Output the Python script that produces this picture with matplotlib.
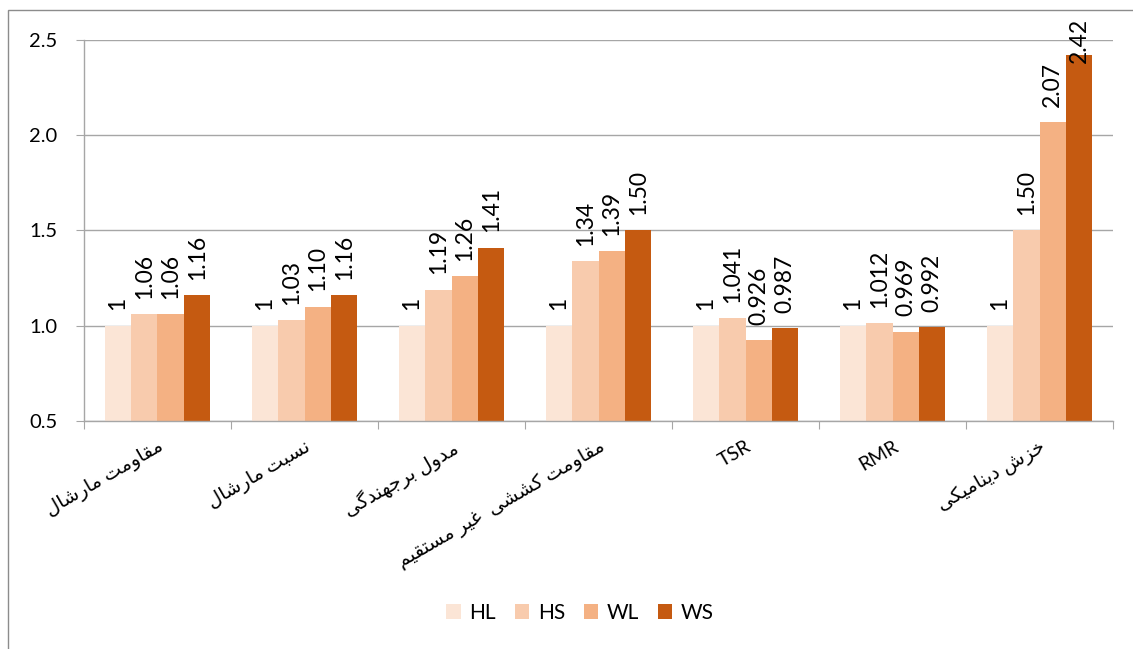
import matplotlib
matplotlib.use("Agg")
import matplotlib.pyplot as plt
from matplotlib.patches import Rectangle, Patch
from matplotlib.ticker import FormatStrFormatter, FixedLocator
import numpy as np

# ---------------------------------------------------------------- data
CATEGORIES = [
    "مقاومت مارشال",
    "نسبت مارشال",
    "مدول برجهندگی",
    "مقاومت کششی  غیر مستقیم",
    "TSR",
    "RMR",
    "خزش دینامیکی",
]
SERIES = ["HL", "HS", "WL", "WS"]
HL = [1, 1, 1, 1, 1, 1, 1]
HS = [1.06, 1.03, 1.19, 1.34, 1.041, 1.012, 1.50]
WL = [1.06, 1.10, 1.26, 1.39, 0.926, 0.969, 2.07]
WS = [1.16, 1.16, 1.41, 1.50, 0.987, 0.992, 2.42]
DECIMALS = [2, 2, 2, 2, 3, 3, 2]          # label precision per category
YTICKS = [0.5, 1.0, 1.5, 2.0, 2.5]

COLORS = ["#FBE5D6", "#F8CBAD", "#F4B183", "#C55A11"]
GRID = "#A6A6A6"

# ------------------------------------------------ Persian text shaping
# forms: (isolated, final, initial, medial); right-joining letters have 2
FORMS = {
    "ا": ("\uFE8D", "\uFE8E"),
    "ب": ("\uFE8F", "\uFE90", "\uFE91", "\uFE92"),
    "ت": ("\uFE95", "\uFE96", "\uFE97", "\uFE98"),
    "ج": ("\uFE9D", "\uFE9E", "\uFE9F", "\uFEA0"),
    "خ": ("\uFEA5", "\uFEA6", "\uFEA7", "\uFEA8"),
    "د": ("\uFEA9", "\uFEAA"),
    "ر": ("\uFEAD", "\uFEAE"),
    "ز": ("\uFEAF", "\uFEB0"),
    "س": ("\uFEB1", "\uFEB2", "\uFEB3", "\uFEB4"),
    "ش": ("\uFEB5", "\uFEB6", "\uFEB7", "\uFEB8"),
    "غ": ("\uFECD", "\uFECE", "\uFECF", "\uFED0"),
    "ق": ("\uFED5", "\uFED6", "\uFED7", "\uFED8"),
    "ل": ("\uFEDD", "\uFEDE", "\uFEDF", "\uFEE0"),
    "م": ("\uFEE1", "\uFEE2", "\uFEE3", "\uFEE4"),
    "ن": ("\uFEE5", "\uFEE6", "\uFEE7", "\uFEE8"),
    "ه": ("\uFEE9", "\uFEEA", "\uFEEB", "\uFEEC"),
    "و": ("\uFEED", "\uFEEE"),
    "ی": ("\uFBFC", "\uFBFD", "\uFBFE", "\uFBFF"),
    "ک": ("\uFB8E", "\uFB8F", "\uFB90", "\uFB91"),
    "گ": ("\uFB92", "\uFB93", "\uFB94", "\uFB95"),
}


def shape_rtl(text):
    if not any(ch in FORMS for ch in text):
        return text
    out = []
    n = len(text)
    for i, ch in enumerate(text):
        if ch not in FORMS:
            out.append(ch)
            continue
        forms = FORMS[ch]
        prev = text[i - 1] if i > 0 else None
        nxt = text[i + 1] if i < n - 1 else None
        joins_prev = prev in FORMS and len(FORMS[prev]) == 4
        joins_next = len(forms) == 4 and nxt in FORMS
        if joins_prev and joins_next:
            out.append(forms[3])
        elif joins_prev:
            out.append(forms[1])
        elif joins_next:
            out.append(forms[2])
        else:
            out.append(forms[0])
    return "".join(reversed(out))


# ---------------------------------------------------------------- plot
FONT = ["Lato", "DejaVu Sans"]
plt.rcParams["font.family"] = FONT

fig = plt.figure(figsize=(11.33, 6.49), dpi=100)
ax = fig.add_axes([84 / 1133, 1 - 421 / 649, (1113 - 84) / 1133, (421 - 40) / 649])

n_cat = len(CATEGORIES)
centers = np.arange(n_cat) + 0.5
bar_w = 0.18
series_vals = [HL, HS, WL, WS]
LABEL_CEIL = 2.30

for k, (name, vals, col) in enumerate(zip(SERIES, series_vals, COLORS)):
    xs = centers + (k - 1.5) * bar_w
    ax.bar(xs, vals, width=bar_w, color=col, edgecolor="none", label=name, zorder=2)
    for x, v, d in zip(xs, vals, DECIMALS):
        txt = f"{v:g}" if name == "HL" else f"{v:.{d}f}"
        ax.annotate(txt, (x, min(v, LABEL_CEIL)), xytext=(0, 11),
                    textcoords="offset points", rotation=90,
                    ha="center", va="bottom", fontsize=16.5,
                    annotation_clip=False, zorder=3)

ax.set_xlim(0, n_cat)
ax.set_ylim(0.5, 2.5)
ax.set_yticks(YTICKS)
ax.yaxis.set_major_formatter(FormatStrFormatter("%.1f"))
ax.grid(axis="y", color=GRID, linewidth=1, zorder=0)
ax.set_axisbelow(True)

for s in ("top", "right"):
    ax.spines[s].set_visible(False)
for s in ("left", "bottom"):
    ax.spines[s].set_color(GRID)
    ax.spines[s].set_linewidth(1)

ax.tick_params(axis="y", length=6, color=GRID, pad=13, labelsize=14.5)
ax.xaxis.set_major_locator(FixedLocator(np.arange(n_cat + 1)))
ax.xaxis.set_minor_locator(FixedLocator(centers))
ax.tick_params(axis="x", which="major", length=6, color=GRID, labelbottom=False)
ax.tick_params(axis="x", which="minor", length=0, pad=12)
ax.set_xticklabels([shape_rtl(c) for c in CATEGORIES], minor=True,
                   rotation=30, ha="right", va="top", rotation_mode="anchor",
                   fontsize=14)

handles = [Patch(facecolor=c, edgecolor="none") for c in COLORS]
fig.legend(handles, SERIES, loc="center", bbox_to_anchor=(580 / 1133, 1 - 613 / 649),
           ncol=4, frameon=False, fontsize=15, handlelength=0.7, handleheight=0.7,
           handletextpad=0.4, columnspacing=0.9)

fig.patches.append(Rectangle((8 / 1133, -0.1), 1.2, 1.1 - 10.5 / 649, fill=False,
                             edgecolor="#8C8C8C", linewidth=1,
                             transform=fig.transFigure, figure=fig))

fig.savefig("out.png", dpi=100, facecolor="white")
